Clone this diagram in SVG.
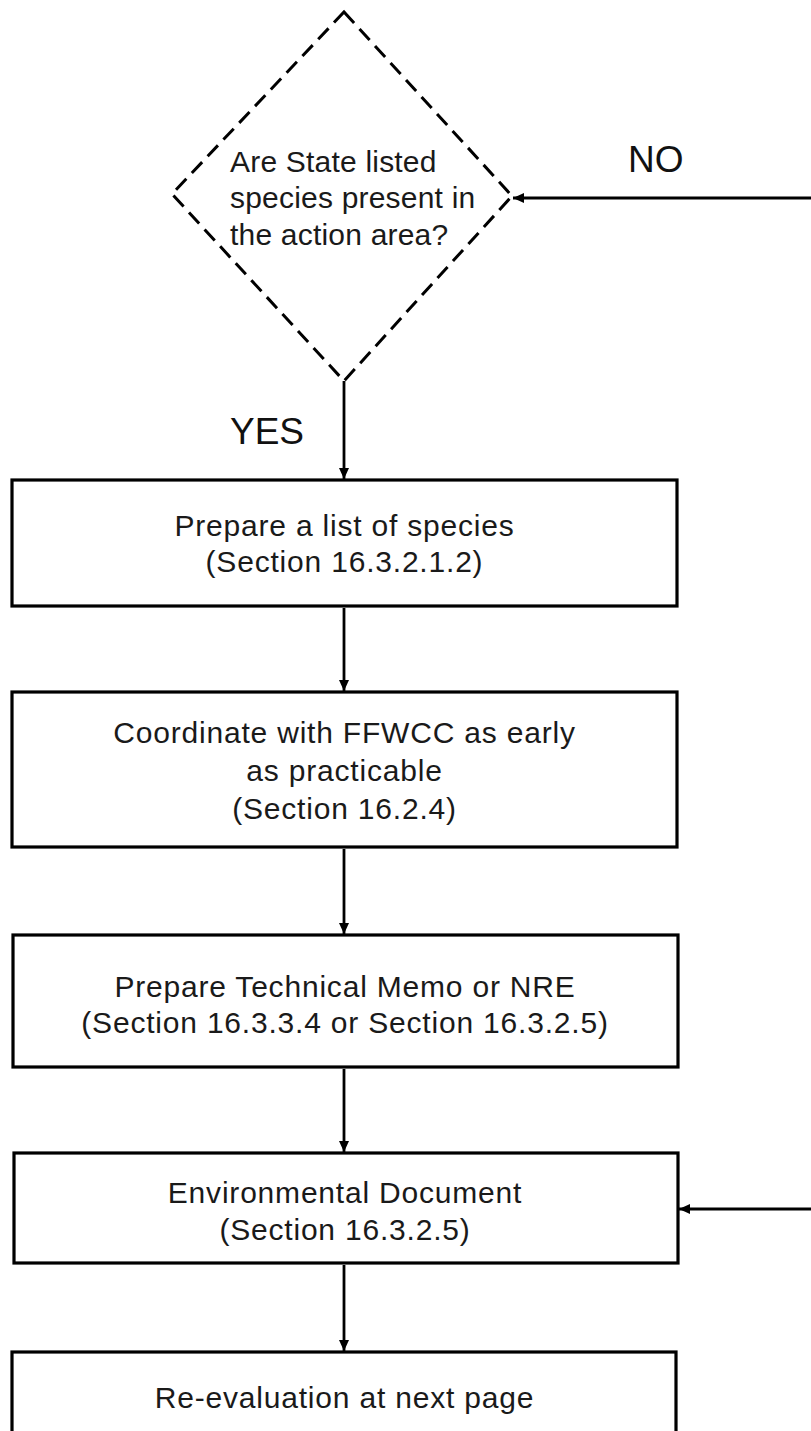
<svg xmlns="http://www.w3.org/2000/svg" width="811" height="1431" viewBox="0 0 811 1431">
<style>
.box{fill:#fff;stroke:#000;stroke-width:3.2}
.dia{fill:#fff;stroke:#000;stroke-width:3;stroke-dasharray:15 8}
.t{font-family:"Liberation Sans",Arial,sans-serif;font-size:30px;fill:#1a1a1a;letter-spacing:0.8px}
.c{text-anchor:middle}
.d{letter-spacing:0.2px}
.lbl{font-family:"Liberation Sans",Arial,sans-serif;font-size:37px;fill:#111}
.con{stroke:#000;stroke-width:2.8;fill:none}
</style>
<defs>
<marker id="ah" markerUnits="userSpaceOnUse" markerWidth="11" markerHeight="10" refX="11" refY="5" orient="auto">
<path d="M0,0 L11,5 L0,10 z" fill="#000"/>
</marker>
</defs>
<rect width="811" height="1431" fill="#fff"/>
<g id="connectors">
<line class="con" x1="344" y1="381" x2="344" y2="479" marker-end="url(#ah)"/>
<line class="con" x1="344" y1="608" x2="344" y2="691" marker-end="url(#ah)"/>
<line class="con" x1="344" y1="849" x2="344" y2="934" marker-end="url(#ah)"/>
<line class="con" x1="344" y1="1069" x2="344" y2="1152" marker-end="url(#ah)"/>
<line class="con" x1="344" y1="1265" x2="344" y2="1351" marker-end="url(#ah)"/>
<line class="con" x1="811" y1="198" x2="513" y2="198" marker-end="url(#ah)"/>
<line class="con" x1="811" y1="1209" x2="679" y2="1209" marker-end="url(#ah)"/>
<text class="lbl" x="628" y="172">NO</text>
<text class="lbl" x="230" y="444">YES</text>
</g>
<g id="decision">
<polygon class="dia" points="344,12 512,196 344,381 172,194"/>
<text class="t d" x="230" y="171.5">Are State listed</text>
<text class="t d" x="230" y="208">species present in</text>
<text class="t d" x="230" y="244.5">the action area?</text>
</g>
<g id="box-list">
<rect class="box" x="12" y="480" width="665" height="126"/>
<text class="t c" x="344.5" y="536">Prepare a list of species</text>
<text class="t c" x="344.5" y="572">(Section 16.3.2.1.2)</text>
</g>
<g id="box-coordinate">
<rect class="box" x="12" y="692" width="665" height="155"/>
<text class="t c" x="344.5" y="743">Coordinate with FFWCC as early</text>
<text class="t c" x="344.5" y="781">as practicable</text>
<text class="t c" x="344.5" y="819">(Section 16.2.4)</text>
</g>
<g id="box-memo">
<rect class="box" x="13" y="935" width="665" height="132"/>
<text class="t c" x="345" y="997">Prepare Technical Memo or NRE</text>
<text class="t c" x="345" y="1033">(Section 16.3.3.4 or Section 16.3.2.5)</text>
</g>
<g id="box-envdoc">
<rect class="box" x="14" y="1153" width="664" height="110"/>
<text class="t c" x="345" y="1203">Environmental Document</text>
<text class="t c" x="345" y="1240">(Section 16.3.2.5)</text>
</g>
<g id="box-reeval">
<rect class="box" x="12" y="1352" width="664" height="110"/>
<text class="t c" x="344.5" y="1408">Re-evaluation at next page</text>
</g>
</svg>
